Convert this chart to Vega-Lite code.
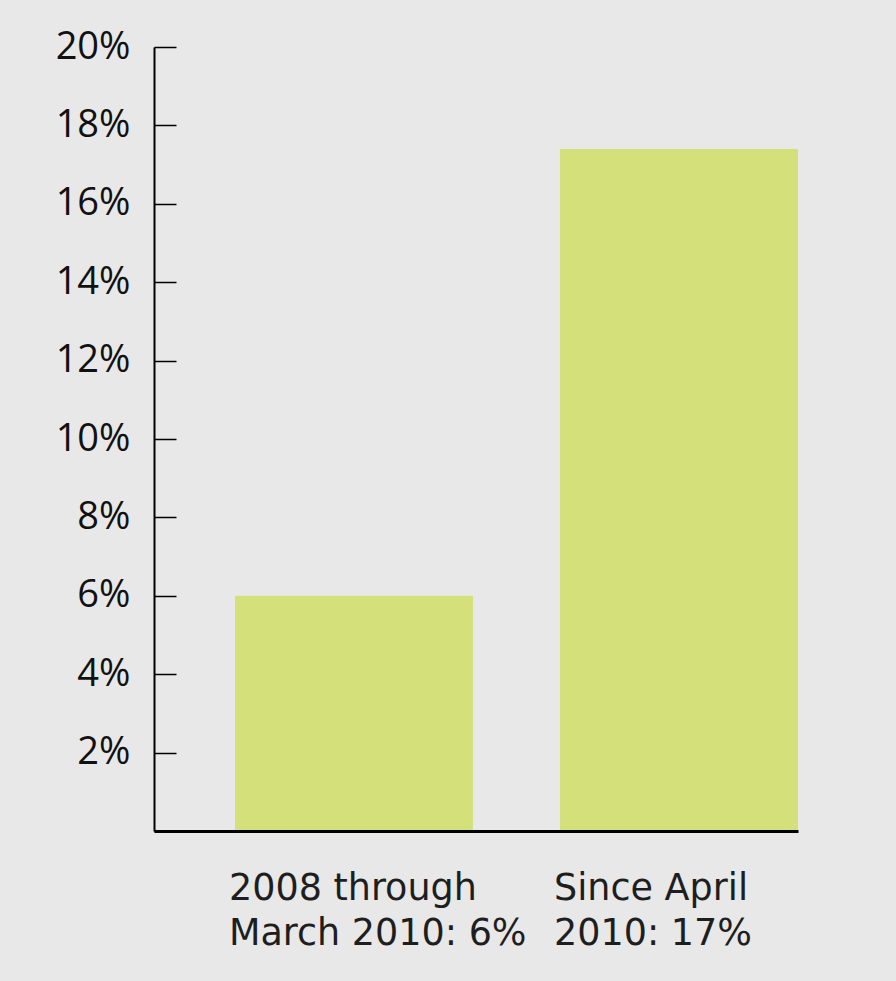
{
  "$schema": "https://vega.github.io/schema/vega-lite/v6.json",
  "autosize": "none",
  "width": 644,
  "height": 784,
  "padding": {"left": 154, "top": 47, "right": 98, "bottom": 150},
  "background": "#e8e8e8",
  "config": {"view": {"stroke": null}},
  "data": {
    "values": [
      {"period": "2008 through|March 2010: 6%", "share": 6.0},
      {"period": "Since April|2010: 17%", "share": 17.4}
    ]
  },
  "mark": {"type": "bar", "color": "#d4e17b"},
  "encoding": {
    "x": {
      "field": "period",
      "type": "nominal",
      "sort": null,
      "scale": {"paddingInner": 0.268, "paddingOuter": 0.1246, "align": 1},
      "axis": {
        "title": null,
        "labelAngle": 0,
        "labelExpr": "split(datum.label, '|')",
        "labelAlign": "left",
        "labelBaseline": "top",
        "labelOffset": -125,
        "labelPadding": 39,
        "labelLineHeight": 45,
        "labelFont": "DejaVu Sans",
        "labelFontSize": 36.5,
        "labelColor": "#1e1e1e",
        "labelLimit": 0,
        "ticks": false,
        "domainColor": "#000000",
        "domainWidth": 3,
        "zindex": 1
      }
    },
    "y": {
      "field": "share",
      "type": "quantitative",
      "scale": {"domain": [0, 20], "nice": false},
      "axis": {
        "title": null,
        "values": [0, 2, 4, 6, 8, 10, 12, 14, 16, 18, 20],
        "labelExpr": "datum.value == 0 ? '' : datum.value + '%'",
        "labelFont": "Open Sans",
        "labelFontSize": 38,
        "labelColor": "#111111",
        "labelPadding": 24,
        "grid": true,
        "gridColor": "#000000",
        "gridWidth": 1.5,
        "gridOpacity": 1,
        "gridDash": [22, 2000],
        "ticks": false,
        "domainColor": "#000000",
        "domainWidth": 2,
        "zindex": 1
      }
    }
  }
}
